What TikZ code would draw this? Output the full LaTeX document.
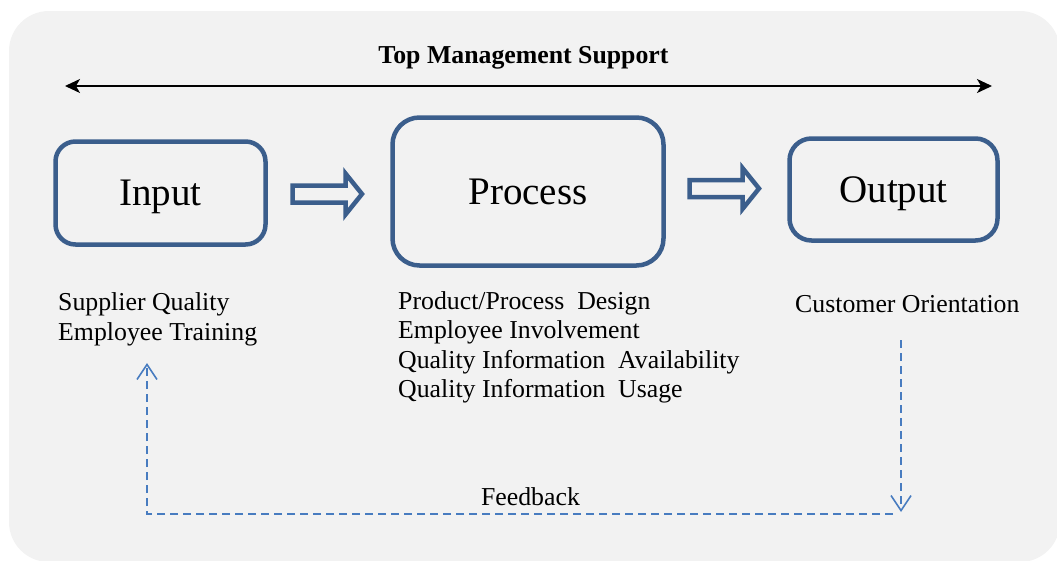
\documentclass[tikz,border=0pt]{standalone}
\usepackage{fontspec}
\setmainfont{Liberation Serif}
\usepackage{xcolor}
\usepackage{tikz}
\usetikzlibrary{arrows.meta,positioning}

\definecolor{bggray}{HTML}{F2F2F2}
\definecolor{boxblue}{RGB}{59,94,140}
\definecolor{dashblue}{RGB}{72,124,192}

\begin{document}
\begin{tikzpicture}[
    x=1pt, y=-1pt,
    mainbox/.style={rectangle, rounded corners=20, draw=boxblue, line width=4.5, text centered, text depth=0pt, font=\fontsize{39}{44}\selectfont},
    note/.style={anchor=base west, inner sep=0, align=left, font=\fontsize{25.8}{29.3}\selectfont},
    fbline/.style={draw=dashblue, line width=1.6, dash pattern=on 8 off 5, -{Straight Barb[length=15,width=20,line width=1.6]}},
    arrow/.style={line width=1.6, {Stealth[length=15,width=14,inset=4]}-{Stealth[length=15,width=14,inset=4]}},
    fatarrow/.pic={\draw[boxblue, line width=4.5, line join=miter] (0,-8.5) -- (53,-8.5) -- (53,-20.5) -- (69.5,0) -- (53,20.5) -- (53,8.5) -- (0,8.5) -- cycle;}
]

\useasboundingbox (0,0) rectangle (1057,560);
\fill[bggray, rounded corners=40] (9,11) rectangle (1060,562);

% top line
\node (tms) [anchor=base, inner sep=0, font=\fontsize{25.8}{30}\selectfont\bfseries] at (523.5,63) {Top Management Support};
\coordinate (tmsleft) at (65,86);
\coordinate (tmsright) at (992,86);
\draw [arrow] (tmsleft) -- (tmsright);

% boxes
\node (input) [mainbox, minimum width=210, minimum height=103] at (160.5,193) {Input};
\node (process) [mainbox, rounded corners=27, minimum width=271, minimum height=148] at (528,191.5) {Process};
\node (output) [mainbox, rounded corners=22, minimum width=208, minimum height=102] at (893.5,189.5) {Output};

\pic at (292.5,194) {fatarrow};
\pic at (689.5,188.5) {fatarrow};

% factors (base = last line)
\node (inputtext) [note] at (58,340) {Supplier Quality\\Employee Training};
\node (processtext) [note] at (398,397.5) {Product/Process~ Design\\Employee Involvement\\Quality Information~ Availability\\Quality Information~ Usage};
\node (outputtext) [note] at (795,312) {Customer Orientation};

% feedback loop
\node (feedback) [anchor=base, inner sep=0, font=\fontsize{25.8}{29.3}\selectfont] at (530.5,505) {Feedback};
\coordinate (fbtop) at (901,340);
\coordinate (fbbottom) at (901,512);
\coordinate (fbright) at (893,514);
\coordinate (fbleft) at (147,514);
\coordinate (fbup) at (147,363);
\draw [fbline] (fbtop) -- (fbbottom);
\draw [fbline] (fbright) -- (fbleft) -- (fbup);

\end{tikzpicture}
\end{document}
